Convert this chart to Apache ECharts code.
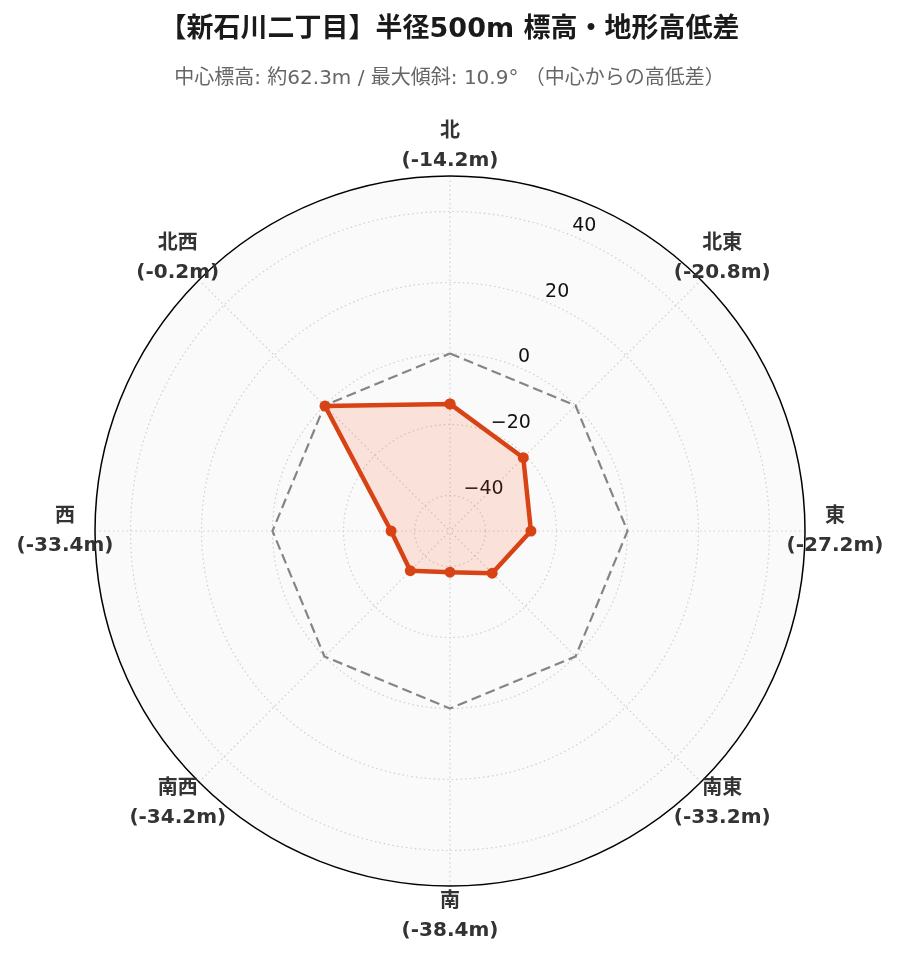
<!DOCTYPE html>
<html><head><meta charset="utf-8">
<script src="https://cdn.jsdelivr.net/npm/echarts@6/dist/echarts.min.js"></script>
<style>html,body{margin:0;padding:0;background:#fff}#c{width:899px;height:962px}</style>
</head><body><div id="c"></div>
<script>
const directions = ['北', '北東', '東', '南東', '南', '南西', '西', '北西'];
const directionAngles = [0, 45, 90, 135, 180, 225, 270, 315];
const diffValues = [-14.2, -20.8, -27.2, -33.2, -38.4, -34.2, -33.4, -0.2];
const zeroValues = [0, 0, 0, 0, 0, 0, 0, 0];
const radialTicks = [-40, -20, 0, 20, 40];
const radiusMin = -50, radiusMax = 50;
const titleText = '【新石川二丁目】半径500m 標高・地形高低差';
const subtitleText = '中心標高: 約62.3m / 最大傾斜: 10.9° （中心からの高低差）';

const LATIN = "'DejaVu Sans', 'Noto Sans CJK JP', sans-serif";
const labelRadius = radiusMax + 8.45;
const gridLine = {color: '#cfcfcf', width: 1.2, type: [1.5, 3]};

function closed(values) {
  const d = values.map((v, i) => [v, directionAngles[i]]);
  d.push([values[0], directionAngles[0] + 360]);
  return d;
}

const chart = echarts.init(document.getElementById('c'), null, {renderer: 'canvas'});
chart.setOption({
  animation: false,
  backgroundColor: '#ffffff',
  title: [
    {text: titleText, left: 'center', top: 11,
     textStyle: {fontFamily: LATIN, fontSize: 27, fontWeight: 'bold', color: '#1a1a1a'}},
    {text: subtitleText, left: 'center', top: 64,
     textStyle: {fontFamily: LATIN, fontSize: 20, fontWeight: 'normal', color: '#666666'}}
  ],
  polar: [
    {center: [450, 531], radius: 355},
    {center: [450, 531], radius: 355}
  ],
  angleAxis: [
    {polarIndex: 0, type: 'value', min: 0, max: 360, interval: 45, startAngle: 90, clockwise: true, z: 2,
     axisLine: {show: true, lineStyle: {color: '#000', width: 1.5}},
     axisTick: {show: false}, axisLabel: {show: false},
     splitLine: {show: true, lineStyle: gridLine}},
    {polarIndex: 1, type: 'value', min: 0, max: 360, interval: 45, startAngle: 67.5, clockwise: true, z: -1,
     axisLine: {show: false}, axisTick: {show: false}, axisLabel: {show: false},
     splitLine: {show: false},
     splitArea: {show: true, areaStyle: {color: ['#fafafa']}}}
  ],
  radiusAxis: [
    {polarIndex: 0, type: 'value', min: radiusMin, max: radiusMax, z: 2,
     axisLine: {show: false},
     axisTick: {show: false, customValues: radialTicks},
     axisLabel: {show: false, customValues: radialTicks},
     splitLine: {show: true, lineStyle: gridLine}},
    {polarIndex: 1, type: 'value', min: radiusMin, max: radiusMax, z: 2,
     axisLine: {show: false}, axisTick: {show: false, customValues: radialTicks},
     splitLine: {show: false},
     axisLabel: {show: true, customValues: radialTicks, margin: 0, rotate: 0,
       align: 'left', verticalAlign: 'bottom', fontFamily: LATIN, fontSize: 19, color: '#111',
       formatter: v => String(v).replace('-', '\u2212')}}
  ],
  series: [
    {type: 'line', coordinateSystem: 'polar', polarIndex: 0, data: closed(zeroValues),
     symbol: 'none', silent: true,
     lineStyle: {color: '#858585', width: 2.2, type: [10, 5]}, z: 3},
    {type: 'line', coordinateSystem: 'polar', polarIndex: 0, data: closed(diffValues),
     symbol: 'circle', symbolSize: 11, silent: true,
     lineStyle: {color: '#d84315', width: 4.5},
     itemStyle: {color: '#d84315'},
     areaStyle: {color: 'rgba(255,87,34,0.2)', origin: 'start'}, z: 4},
    {type: 'scatter', coordinateSystem: 'polar', polarIndex: 0, clip: false, silent: true,
     symbolSize: 0, itemStyle: {opacity: 1},
     data: directionAngles.map((a) => [labelRadius, a]),
     label: {show: true, position: 'inside', align: 'center', verticalAlign: 'middle', opacity: 1,
       textBorderWidth: 0,
       fontFamily: LATIN, fontSize: 20, fontWeight: 'bold', color: '#333333', lineHeight: 29,
       formatter: p => directions[p.dataIndex] + '\n(' + diffValues[p.dataIndex].toFixed(1) + 'm)'}}
  ]
});
</script></body></html>
